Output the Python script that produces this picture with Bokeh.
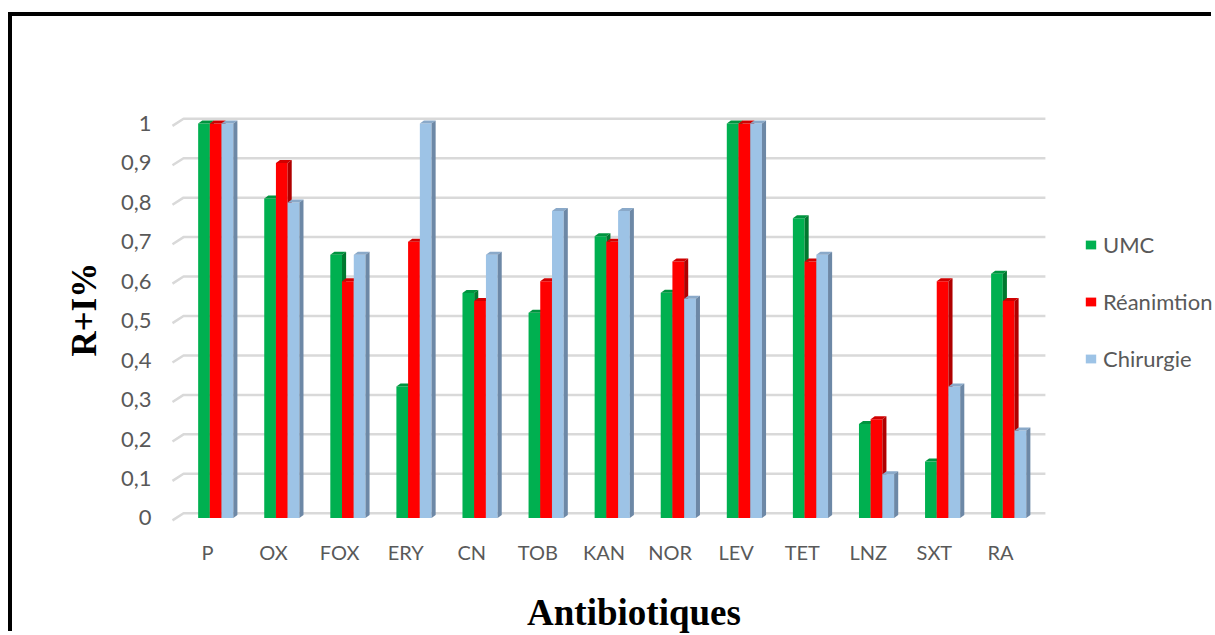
import math
from bokeh.plotting import figure
from bokeh.models import Range1d, FixedTicker, Legend, LegendItem, Label
from bokeh.embed import file_html
from bokeh.resources import INLINE

# Resistance rates (R+I) per antibiotic and per ward
antibiotics = ["P", "OX", "FOX", "ERY", "CN", "TOB", "KAN", "NOR", "LEV", "TET", "LNZ", "SXT", "RA"]
umc = [1.0, 0.81, 0.667, 0.333, 0.57, 0.52, 0.714, 0.571, 1.0, 0.76, 0.238, 0.143, 0.619]
reanimation = [1.0, 0.9, 0.6, 0.7, 0.55, 0.6, 0.7, 0.65, 1.0, 0.65, 0.25, 0.6, 0.55]
chirurgie = [1.0, 0.8, 0.667, 1.0, 0.667, 0.778, 0.778, 0.556, 1.0, 0.667, 0.111, 0.333, 0.222]
series_names = ["UMC", "Réanimtion", "Chirurgie"]

y_ticks = [0, 0.1, 0.2, 0.3, 0.4, 0.5, 0.6, 0.7, 0.8, 0.9, 1.0]
y_tick_labels = ["0", "0,1", "0,2", "0,3", "0,4", "0,5", "0,6", "0,7", "0,8", "0,9", "1"]

# Styling of the pseudo-3D columns: front, top and side face colours
front_colors = ["#00B050", "#FF0000", "#9DC3E6"]
top_colors = ["#00943F", "#D00000", "#8AA9C9"]
side_colors = ["#00782F", "#B00000", "#6D88A6"]
bar_offsets = [-0.053, 0.124, 0.302]
bar_w = 0.177
depth_x = 0.062
depth_y = 0.0076

# The plotting frame fills the whole canvas; axes sit at fixed positions inside it
p = figure(width=1203, height=619, output_backend="svg", toolbar_location=None,
           x_range=Range1d(-2.951, 15.254), y_range=Range1d(-0.2979, 1.2712),
           min_border_left=0, min_border_right=0, min_border_top=0, min_border_bottom=0)
# thick black rule along the left and top edges of the chart area
p.margin = (16, 0, 0, 12)
p.styles = {"box-shadow": "-4px -4px 0 0 black"}
p.outline_line_color = None
p.background_fill_color = "white"
p.border_fill_color = "white"
p.xgrid.visible = False
p.ygrid.visible = False

# Back-wall gridlines with the short receding edge on the left
gx0, gx1, gx2 = -0.530, -0.363, 12.68
for t in y_ticks:
    p.line([gx0, gx1, gx2], [t - 0.006, t + 0.012, t + 0.012], line_color="#D9D9D9", line_width=2.5)

series = [umc, reanimation, chirurgie]
renderers = []
for s, vals in enumerate(series):
    xs_c = [i + bar_offsets[s] for i in range(len(antibiotics))]
    r = p.vbar(x=xs_c, top=vals, bottom=0, width=bar_w, fill_color=front_colors[s], line_color=None)
    renderers.append(r)
    top_xs, top_ys, side_xs, side_ys = [], [], [], []
    for xc, v in zip(xs_c, vals):
        xl, xr = xc - bar_w / 2, xc + bar_w / 2
        top_xs.append([xl, xl + depth_x, xr + depth_x, xr])
        top_ys.append([v, v + depth_y, v + depth_y, v])
        side_xs.append([xr, xr + depth_x, xr + depth_x, xr])
        side_ys.append([0, depth_y, v + depth_y, v])
    p.patches(top_xs, top_ys, fill_color=top_colors[s], line_color=None)
    p.patches(side_xs, side_ys, fill_color=side_colors[s], line_color=None)

# Axes
p.xaxis.fixed_location = -0.0119
p.yaxis.fixed_location = -0.5297
p.xaxis.ticker = FixedTicker(ticks=list(range(len(antibiotics))))
p.xaxis.major_label_overrides = {i: name for i, name in enumerate(antibiotics)}
p.yaxis.ticker = FixedTicker(ticks=y_ticks)
p.yaxis.major_label_overrides = {t: l for t, l in zip(y_ticks, y_tick_labels)}
for ax in (p.xaxis, p.yaxis):
    ax.axis_line_color = None
    ax.major_tick_line_color = None
    ax.minor_tick_line_color = None
    ax.major_label_text_font = "Lato"
    ax.major_label_text_color = "#595959"
p.xaxis.major_label_text_font_size = "20px"
p.yaxis.major_label_text_font_size = "22px"
p.xaxis.major_label_standoff = 11
p.yaxis.major_label_standoff = 15

title_font = dict(text_font="Liberation Serif", text_font_style="bold", text_color="black",
                  text_baseline="middle", text_align="center")
p.add_layout(Label(x=6.454, y=-0.240, text="Antibiotiques", text_font_size="37px", **title_font))
p.add_layout(Label(x=-1.861, y=0.528, text="R+I%", angle=math.pi / 2,
                   text_font_size="35px", **title_font))

legend = Legend(items=[LegendItem(label=n, renderers=[r]) for n, r in zip(series_names, renderers)],
                location=(1072, 263), orientation="vertical", padding=0, margin=0,
                spacing=30, glyph_width=13, glyph_height=11, label_standoff=6,
                label_text_font="Lato", label_text_font_size="22px", label_text_color="#595959",
                background_fill_alpha=0, border_line_color=None)
p.add_layout(legend, "center")

open("out.html", "w").write(file_html(p, INLINE))
